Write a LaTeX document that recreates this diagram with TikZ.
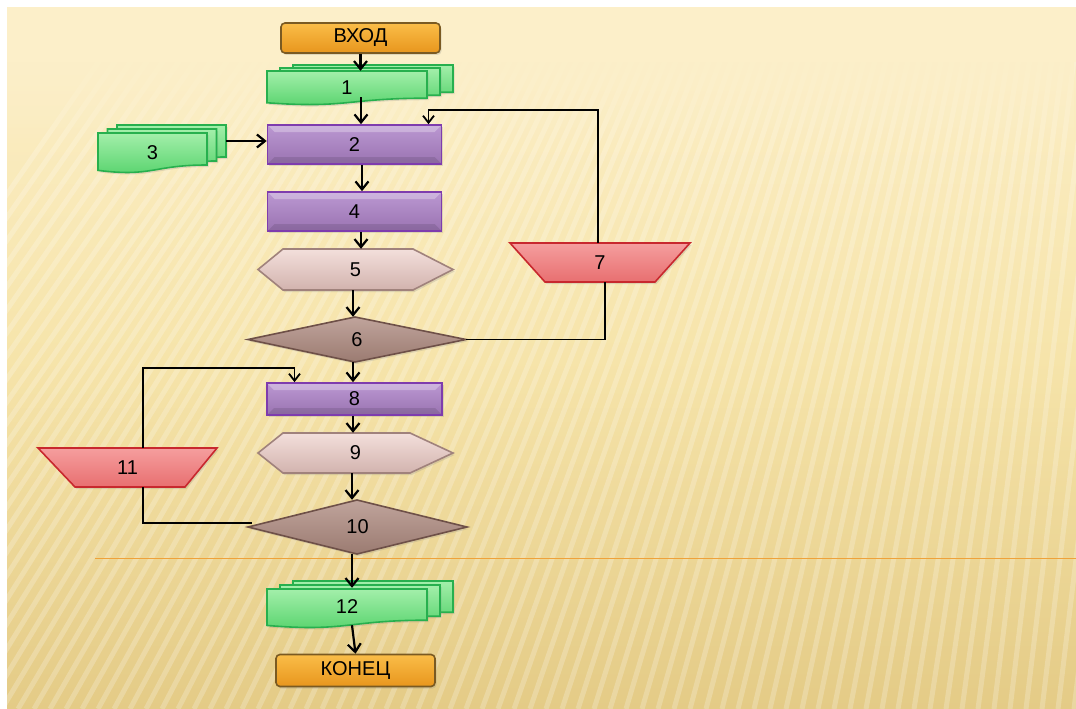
\documentclass[tikz,border=0pt]{standalone}
\usepackage{fontspec}
\setmainfont{Liberation Sans}
\usetikzlibrary{arrows.meta,calc,fadings,shadows}
\definecolor{bgtop}{HTML}{FCEFC9}
\definecolor{bgmid}{HTML}{F6E4AA}
\definecolor{bgbot}{HTML}{E4CB86}
\definecolor{otop}{HTML}{FABD48}
\definecolor{obot}{HTML}{E8961D}
\definecolor{obrd}{HTML}{7A5A22}
\definecolor{gtop}{HTML}{A3EFAA}
\definecolor{gbot}{HTML}{55D26B}
\definecolor{gbrd}{HTML}{27B04E}
\definecolor{ptop}{HTML}{BB98D2}
\definecolor{pbot}{HTML}{9A73B1}
\definecolor{pbrd}{HTML}{7E3CAE}
\definecolor{htop}{HTML}{F3DFDB}
\definecolor{hbot}{HTML}{D2B3AE}
\definecolor{hbrd}{HTML}{A0827C}
\definecolor{dtop}{HTML}{C0A49C}
\definecolor{dbot}{HTML}{9B7B71}
\definecolor{dbrd}{HTML}{6E5048}
\definecolor{rtop}{HTML}{F59E9E}
\definecolor{rbot}{HTML}{E86F70}
\definecolor{rbrd}{HTML}{C8282E}
\definecolor{oline}{HTML}{EFA23A}
\newcommand\mydocshape[5]{%
  \path[#5] (#1,#2) -- ({#1+#3},#2) -- ({#1+#3},{#2+0.8*#4})
    .. controls ({#1+0.5*#3},{#2+0.8*#4}) and ({#1+0.5*#3},{#2+1.107*#4}) .. (#1,{#2+0.934*#4}) -- cycle;}
\tikzset{
  txt/.style={inner sep=0pt, font=\fontsize{20}{24}\selectfont, text=black},
  shd/.style={drop shadow={opacity=0.22, shadow xshift=1.5pt, shadow yshift=-2pt}},
  bevel/.style={path picture={
    \fill[white,opacity=0.28] (path picture bounding box.north west) -- (path picture bounding box.north east)
      -- ([shift={(-7pt,-7pt)}]path picture bounding box.north east) -- ([shift={(7pt,-7pt)}]path picture bounding box.north west) -- cycle;
    \fill[black,opacity=0.10] (path picture bounding box.south west) -- (path picture bounding box.south east)
      -- ([shift={(-7pt,7pt)}]path picture bounding box.south east) -- ([shift={(7pt,7pt)}]path picture bounding box.south west) -- cycle;}},
  obox/.style={txt, draw=obrd, line width=1.6pt, top color=otop, bottom color=obot, rounded corners=4pt, shd},
  pbox/.style={txt, draw=pbrd, line width=1.7pt, top color=ptop, bottom color=pbot, bevel, shd},
  gdoc/.style={draw=gbrd, line width=1.6pt, top color=gtop, bottom color=gbot, shd},
  hexs/.style={draw=hbrd, line width=1.6pt, top color=htop, bottom color=hbot, shd},
  dias/.style={draw=dbrd, line width=1.6pt, top color=dtop, bottom color=dbot, shd},
  traps/.style={draw=rbrd, line width=1.6pt, top color=rtop, bottom color=rbot, shd},
  arr/.style={line width=2.2pt, -{Straight Barb[length=8pt,width=13pt]}},
  lp/.style={line width=1.8pt, -{Straight Barb[length=7pt,width=11pt]}},
  ln/.style={line width=1.8pt},
}
\begin{document}
\begin{tikzpicture}[x=1pt,y=-1pt]
\useasboundingbox (0,0) rectangle (1076,709);
\fill[white] (0,0) rectangle (1076,709);
% background
\begin{scope}
\clip (7,8) rectangle (1076,709);
\shade[top color=bgtop, bottom color=bgbot, middle color=bgmid] (7,8) rectangle (1076,709);
\foreach \i in {0,...,95} {
  \pgfmathsetmacro\bx{-350+\i*16}
  \pgfmathsetmacro\tx{\bx+600*(0.75-0.62*max(0,min(1,(\bx+200)/1200)))}
  \draw[white,opacity=0.22,line width=5pt] (\bx,709) -- (\tx,60);
}
\fill[bgtop] (7,8) rectangle (1076,62);
\fill[bgtop, path fading=south] (7,60) rectangle (1076,150);
\end{scope}
\draw[oline, line width=1.3pt] (95,558.5) -- (1076,558.5);

% shapes
\node[obox, minimum width=159, minimum height=30] (vhod) at (360.5,38) {ВХОД};

\mydocshape{293}{65}{160}{34}{gdoc}
\mydocshape{280}{68}{160}{34}{gdoc}
\mydocshape{267}{71}{160}{34}{gdoc}
\node[txt, minimum width=160, minimum height=34] (d1) at (347,88) {1};

\mydocshape{117}{125}{109}{40}{gdoc}
\mydocshape{107.5}{129}{109}{40}{gdoc}
\mydocshape{98}{133}{109}{40}{gdoc}
\node[txt, minimum width=109, minimum height=40] (d3) at (152.5,152.5) {3};

\node[pbox, minimum width=174, minimum height=39] (n2) at (354.5,144.5) {2};
\node[pbox, minimum width=174, minimum height=39] (n4) at (354.5,211.5) {4};

\path[hexs] (258,269.5) -- (283,249) -- (413,249) -- (453,269.5) -- (413,290) -- (283,290) -- cycle;
\node[txt, minimum width=195, minimum height=41] (n5) at (355.5,269.5) {5};

\path[dias] (248,339.5) -- (355,317) -- (466,339.5) -- (355,362) -- cycle;
\node[txt, minimum width=218, minimum height=45] (n6) at (357,339.5) {6};

\path[traps] (510,243) -- (690,243) -- (655,282) -- (545,282) -- cycle;
\node[txt, minimum width=180, minimum height=39] (n7) at (600,262.5) {7};

\node[pbox, minimum width=175, minimum height=32] (n8) at (354.5,399) {8};

\path[hexs] (258,453) -- (283,433) -- (410,433) -- (453,453) -- (410,473) -- (283,473) -- cycle;
\node[txt, minimum width=195, minimum height=40] (n9) at (355.5,453) {9};

\path[dias] (248,527) -- (357,500) -- (467,527) -- (357,554) -- cycle;
\node[txt, minimum width=219, minimum height=54] (n10) at (357.5,527) {10};

\path[traps] (38,448) -- (217,448) -- (185,487) -- (75,487) -- cycle;
\node[txt, minimum width=179, minimum height=39] (n11) at (127.5,467.5) {11};

\mydocshape{293}{581}{160}{39}{gdoc}
\mydocshape{280}{585}{160}{39}{gdoc}
\mydocshape{267}{589}{160}{39}{gdoc}
\node[txt, minimum width=160, minimum height=38] (d12) at (347,607) {12};

\node[obox, minimum width=159, minimum height=32] (konec) at (355.5,670.5) {КОНЕЦ};

% connectors
\draw[arr] (vhod.south) -- (vhod.south |- d1.north);
\draw[arr] ($(d1.south)+(14,-8)$) -- ($(n2.north)+(6.5,0)$);
\draw[arr] ($(d3.east)+(19,-11.5)$) -- ($(n2.west)+(0,-3.5)$);
\draw[arr] ($(n2.south)+(7.5,0)$) -- ($(n4.north)+(7.5,0)$);
\draw[arr] ($(n4.south)+(6.5,0)$) -- ($(n5.north)+(5.5,0)$);
\draw[arr] ($(n5.south)+(-2.5,0)$) -- ($(n6.north)+(-4,0)$);
\draw[arr] ($(n6.south)+(-4,0)$) -- ($(n8.north)+(-1.5,0)$);
\draw[lp] ($(n7.north)+(-2,0)$) |- ($(n2.north)+(74,-14)$) -- ($(n2.north)+(74,0)$);
\draw[ln] (n6.east) -| ($(n7.south)+(5,0)$);
\draw[arr] ($(n8.south)+(-1.5,0)$) -- ($(n9.north)+(-2.5,0)$);
\draw[arr] ($(n9.south)+(-3.5,0)$) -- ($(n10.north)+(-5.5,0)$);
\draw[arr] ($(n10.south)+(-5.5,0)$) -- ($(d12.north)+(5,0)$);
\draw[arr] ($(d12.south)+(5,-1)$) -- (konec.north);
\draw[lp] ($(n11.north)+(15.5,0)$) |- ($(n8.north)+(-60,-14)$) -- ($(n8.north)+(-60,0)$);
\draw[ln] ($(n10.west)+(4,-4)$) -| ($(n11.south)+(15.5,0)$);
\end{tikzpicture}
\end{document}
